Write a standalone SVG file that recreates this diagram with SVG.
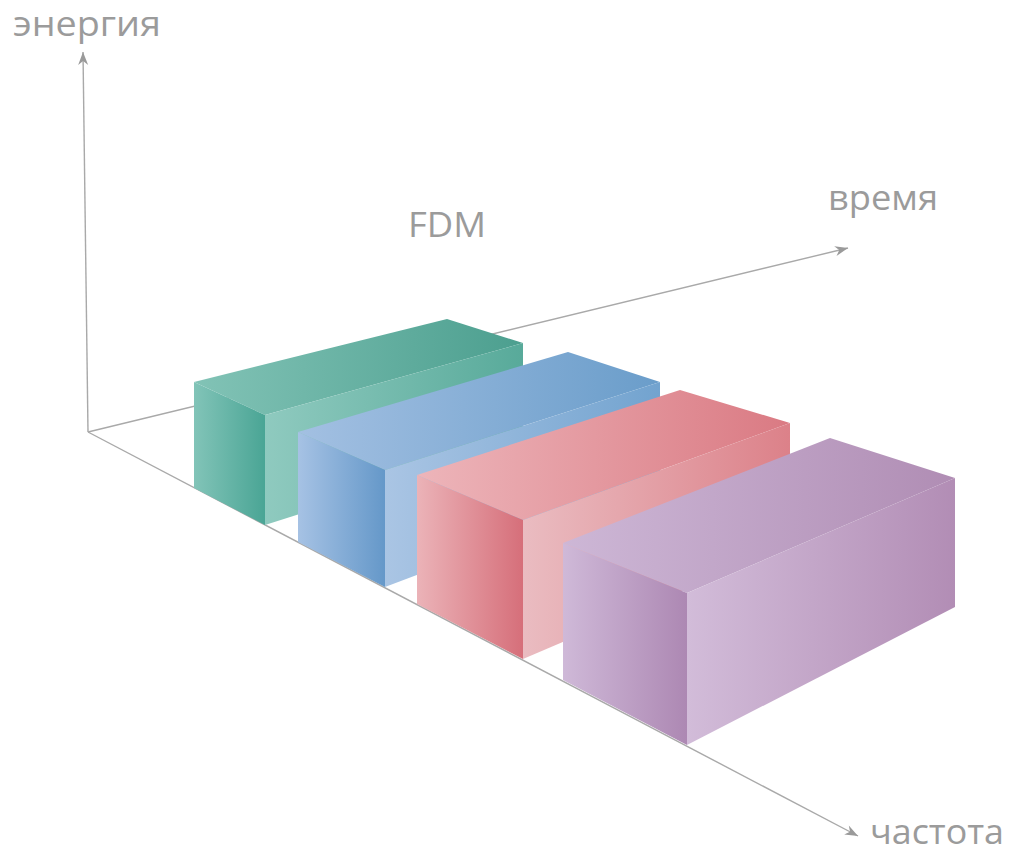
<svg xmlns="http://www.w3.org/2000/svg" width="1011" height="852" viewBox="0 0 1011 852">
<defs>
<style>
.lbl{font-family:"Open Sans","Liberation Sans",sans-serif;font-size:34px;fill:#9b9b9b}
.axis{fill:none;stroke:#a9a9a9;stroke-width:1.4}
</style>
<marker id="ah" viewBox="-14 -6 16 12" markerWidth="16" markerHeight="12" refX="0" refY="0" orient="auto" markerUnits="userSpaceOnUse">
<path d="M0,0 L-13,-5 L-9,0 L-13,5 Z" fill="#9a9a9a"/>
</marker>
<linearGradient id="gF" x1="0" y1="0" x2="1" y2="0"><stop offset="0" stop-color="#82c4b8"/><stop offset="1" stop-color="#4aa595"/></linearGradient>
<linearGradient id="gT" x1="0" y1="0" x2="1" y2="0"><stop offset="0" stop-color="#82c3b6"/><stop offset="1" stop-color="#4c9f8f"/></linearGradient>
<linearGradient id="gS" x1="0" y1="0" x2="1" y2="0"><stop offset="0" stop-color="#8fcabf"/><stop offset="1" stop-color="#58aa9a"/></linearGradient>
<linearGradient id="bF" x1="0" y1="0" x2="1" y2="0"><stop offset="0" stop-color="#a6c2e4"/><stop offset="1" stop-color="#6598c9"/></linearGradient>
<linearGradient id="bT" x1="0" y1="0" x2="1" y2="0"><stop offset="0" stop-color="#a3c0e2"/><stop offset="1" stop-color="#6a9dca"/></linearGradient>
<linearGradient id="bS" x1="0" y1="0" x2="1" y2="0"><stop offset="0" stop-color="#aac5e4"/><stop offset="1" stop-color="#72a3cf"/></linearGradient>
<linearGradient id="rF" x1="0" y1="0" x2="1" y2="0"><stop offset="0" stop-color="#ebb3b8"/><stop offset="1" stop-color="#d66f7a"/></linearGradient>
<linearGradient id="rT" x1="0" y1="0" x2="1" y2="0"><stop offset="0" stop-color="#edb5ba"/><stop offset="1" stop-color="#da7a83"/></linearGradient>
<linearGradient id="rS" x1="0" y1="0" x2="1" y2="0"><stop offset="0" stop-color="#eabcc1"/><stop offset="1" stop-color="#dc8189"/></linearGradient>
<linearGradient id="pF" x1="0" y1="0" x2="1" y2="0"><stop offset="0" stop-color="#cfb9d8"/><stop offset="1" stop-color="#ad88b3"/></linearGradient>
<linearGradient id="pT" x1="0" y1="0" x2="1" y2="0"><stop offset="0" stop-color="#cdb7d6"/><stop offset="1" stop-color="#b08db4"/></linearGradient>
<linearGradient id="pS" x1="0" y1="0" x2="1" y2="0"><stop offset="0" stop-color="#d2bcd9"/><stop offset="1" stop-color="#b28db5"/></linearGradient>
</defs>
<rect width="1011" height="852" fill="#ffffff"/>

<g id="connectors">
<path class="axis" d="M88,432 L83,52" marker-end="url(#ah)"/>
<path class="axis" d="M88,432 L848,248" marker-end="url(#ah)"/>
<path class="axis" d="M88,432 L858,836" marker-end="url(#ah)"/>
</g>

<g id="box-green">
<polygon points="194,382 447,319 523,343 265,415" fill="url(#gT)"/>
<polygon points="265,415 523,343 523,443 265,525" fill="url(#gS)"/>
<polygon points="194,382 265,415 265,525 194,488" fill="url(#gF)"/>
</g>
<g id="box-blue">
<polygon points="298,432 568,352 660,382 385,470" fill="url(#bT)"/>
<polygon points="385,470 660,382 660,483 385,587" fill="url(#bS)"/>
<polygon points="298,432 385,470 385,587 298,542" fill="url(#bF)"/>
</g>
<g id="box-red">
<polygon points="417,475 680,390 790,423 523,520" fill="url(#rT)"/>
<polygon points="523,520 790,423 790,545 523,659" fill="url(#rS)"/>
<polygon points="417,475 523,520 523,659 417,604" fill="url(#rF)"/>
</g>
<g id="box-purple">
<polygon points="563,543 830,438 955,478 687,593" fill="url(#pT)"/>
<polygon points="687,593 955,478 955,607 687,745" fill="url(#pS)"/>
<polygon points="563,543 687,593 687,745 563,680" fill="url(#pF)"/>
</g>

<g id="labels">
<text class="lbl" x="13" y="36" textLength="148" lengthAdjust="spacingAndGlyphs">энергия</text>
<text class="lbl" x="828" y="210" textLength="110" lengthAdjust="spacingAndGlyphs">время</text>
<text class="lbl" x="408" y="237" textLength="78" lengthAdjust="spacingAndGlyphs">FDM</text>
<text class="lbl" x="870" y="844" font-size="32" textLength="134" lengthAdjust="spacingAndGlyphs">частота</text>
</g>
</svg>
